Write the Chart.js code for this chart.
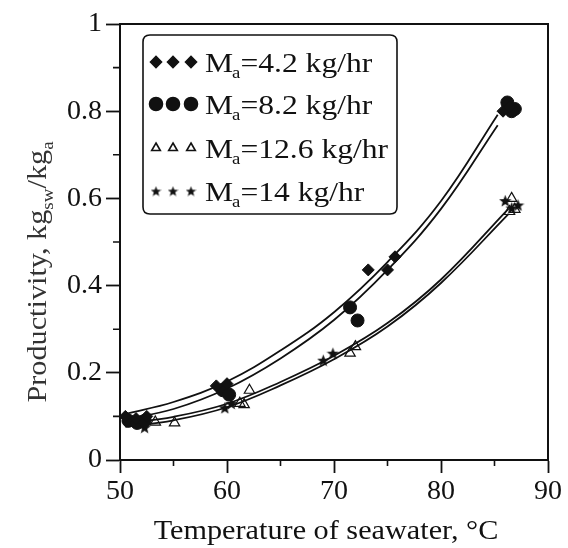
<!DOCTYPE html>
<html><head><meta charset="utf-8">
<script src="https://cdn.jsdelivr.net/npm/chart.js@4"></script>
<style>html,body{margin:0;padding:0;background:#fff}#wrap{width:568px;height:548px;position:relative}</style>
</head><body><div id="wrap"><canvas id="c"></canvas></div>
<script>
// ---- data ----
const xTickValues = [50, 60, 70, 80, 90];
const yTickValues = [0, 0.2, 0.4, 0.6, 0.8, 1];
const xMinorTicks = [55, 65, 75, 85];
const yMinorTicks = [0.1, 0.3, 0.5, 0.7, 0.9];
const xTitle = 'Temperature of seawater, °C';
const legendLabels = ['=4.2 kg/hr', '=8.2 kg/hr', '=12.6 kg/hr', '=14 kg/hr'];

// measured points (temperature, productivity)
const ma42T = [50.5, 51.5, 52.5, 59.0, 60.0, 73.2, 75.0, 75.7, 85.8, 86.4];
const ma42P = [0.100, 0.095, 0.100, 0.170, 0.175, 0.436, 0.436, 0.466, 0.800, 0.810];
const ma82T = [50.8, 51.6, 52.3, 59.6, 60.2, 71.5, 72.2, 86.2, 86.9, 86.6];
const ma82P = [0.090, 0.085, 0.090, 0.160, 0.150, 0.350, 0.320, 0.820, 0.805, 0.800];
const ma126T = [53.3, 55.1, 61.2, 61.6, 62.1, 71.5, 72.0, 86.6, 86.9, 86.4];
const ma126P = [0.087, 0.085, 0.130, 0.127, 0.160, 0.245, 0.260, 0.600, 0.575, 0.570];
const ma14T = [50.5, 51.2, 52.3, 59.8, 60.4, 69.0, 69.9, 86.0, 87.2, 86.6];
const ma14P = [0.100, 0.090, 0.075, 0.120, 0.130, 0.229, 0.245, 0.595, 0.585, 0.578];

// fitted curves
const fitUpperT = [50.5, 55, 60, 65, 70, 75, 80, 85.3];
const fit42P   = [0.106, 0.133, 0.180, 0.251, 0.339, 0.454, 0.594, 0.792];
const fit82P   = [0.094, 0.117, 0.164, 0.233, 0.321, 0.436, 0.576, 0.768];
const fitLowerT = [50.5, 55, 60, 65, 70, 75, 80, 86.3];
const fit126P  = [0.084, 0.099, 0.129, 0.179, 0.239, 0.314, 0.414, 0.576];
const fit14P   = [0.076, 0.091, 0.121, 0.171, 0.231, 0.306, 0.406, 0.564];

const INK = '#111';
const FONT = '"Liberation Serif", "Times New Roman", serif';

function pts(xs, ys){ return xs.map((x,i)=>({x:x, y:ys[i]})); }

function makeStar(size){
  const c = document.createElement('canvas');
  c.width = size; c.height = size;
  const g = c.getContext('2d');
  const cx = size/2, cy = size/2 + size*0.06, R = size/2, r = R*0.42;
  g.beginPath();
  for (let i=0;i<10;i++){
    const a = -Math.PI/2 + i*Math.PI/5;
    const rr = i%2===0 ? R : r;
    g.lineTo(cx + rr*Math.cos(a), cy + rr*Math.sin(a));
  }
  g.closePath(); g.fillStyle = INK; g.fill();
  return c;
}
const starBig = makeStar(13);
const starSmall = makeStar(11);

function curve(xs, ys){
  return {type:'line', data:pts(xs, ys), borderColor:INK, borderWidth:1.8, pointRadius:0,
    tension:0.4, fill:false, showLine:true, order:2};
}

function drawStretched(ctx, text, x, y, sx){
  ctx.save(); ctx.translate(x, y); ctx.scale(sx, 1); ctx.fillText(text, 0, 0); ctx.restore();
  return ctx.measureText(text).width * sx;
}

const framePlugin = {
  id:'frame',
  afterDraw(chart){
    const {ctx, chartArea:a, scales:{x, y}} = chart;
    ctx.save();
    ctx.strokeStyle = INK; ctx.lineWidth = 2;
    ctx.beginPath();
    ctx.moveTo(a.left, a.top); ctx.lineTo(a.right, a.top); ctx.lineTo(a.right, a.bottom);
    ctx.stroke();
    ctx.lineWidth = 1.6;
    ctx.beginPath();
    xMinorTicks.forEach(v=>{ const px = x.getPixelForValue(v); ctx.moveTo(px, a.bottom); ctx.lineTo(px, a.bottom+6); });
    yMinorTicks.forEach(v=>{ const py = y.getPixelForValue(v); ctx.moveTo(a.left, py); ctx.lineTo(a.left-7, py); });
    ctx.stroke();

    // x title
    ctx.fillStyle = INK;
    ctx.font = '27px '+FONT;
    ctx.textBaseline = 'alphabetic';
    const sxT = 1.12;
    const wT = ctx.measureText(xTitle).width * sxT;
    drawStretched(ctx, xTitle, (a.left + a.right)/2 - wT/2 - 8, 539, sxT);

    // y title with subscripts
    ctx.fillStyle = '#333';
    ctx.translate(37, 272);
    ctx.rotate(-Math.PI/2);
    const sy = 1.12;
    const parts = [['Productivity, kg', 27, 0], ['sw', 17, 7], ['/kg', 27, 0], ['a', 17, 7]];
    let total = 0;
    parts.forEach(p=>{ ctx.font = p[1]+'px '+FONT; total += ctx.measureText(p[0]).width * sy; });
    let cx = -total/2;
    parts.forEach(p=>{ ctx.font = p[1]+'px '+FONT; cx += drawStretched(ctx, p[0], cx, 9 + p[2], sy); });
    ctx.restore();

    // legend
    ctx.save();
    const L = 143, T = 35, R = 397, B = 214, rad = 7;
    ctx.strokeStyle = INK; ctx.lineWidth = 1.6;
    ctx.beginPath();
    ctx.moveTo(L+rad, T); ctx.lineTo(R-rad, T); ctx.quadraticCurveTo(R, T, R, T+rad);
    ctx.lineTo(R, B-rad); ctx.quadraticCurveTo(R, B, R-rad, B);
    ctx.lineTo(L+rad, B); ctx.quadraticCurveTo(L, B, L, B-rad);
    ctx.lineTo(L, T+rad); ctx.quadraticCurveTo(L, T, L+rad, T);
    ctx.stroke();
    const rows = [62, 104, 148, 191];
    const styles = [
      {pointStyle:'rectRot', radius:5.5, fill:true},
      {pointStyle:'circle', radius:6.5, fill:true},
      {pointStyle:'triangle', radius:5, fill:false},
      {pointStyle:starSmall, radius:5, fill:true}
    ];
    const mx = [156, 173, 191];
    const sL = 1.17;
    rows.forEach((ry, i)=>{
      const s = styles[i];
      mx.forEach(xx=>{
        ctx.fillStyle = s.fill ? INK : '#fff';
        ctx.strokeStyle = INK;
        Chart.helpers.drawPoint(ctx, {pointStyle:s.pointStyle, radius:s.radius, borderWidth:1.2, rotation:0}, xx, ry);
      });
      ctx.fillStyle = INK;
      ctx.textBaseline = 'alphabetic';
      ctx.font = '27px '+FONT;
      let tx = 205;
      tx += drawStretched(ctx, 'M', tx, ry+10, sL) - 1;
      ctx.font = '16px '+FONT;
      tx += drawStretched(ctx, 'a', tx, ry+16, sL);
      ctx.font = '27px '+FONT;
      drawStretched(ctx, legendLabels[i], tx, ry+10, sL);
    });
    ctx.restore();
  }
};

new Chart(document.getElementById('c'), {
  type:'scatter',
  data:{datasets:[
    curve(fitUpperT, fit42P), curve(fitUpperT, fit82P),
    curve(fitLowerT, fit126P), curve(fitLowerT, fit14P),
    {label:'4.2', data:pts(ma42T, ma42P), pointStyle:'rectRot', pointRadius:6, backgroundColor:INK, borderColor:INK, borderWidth:1, order:1},
    {label:'8.2', data:pts(ma82T, ma82P), pointStyle:'circle', pointRadius:6.5, backgroundColor:INK, borderColor:INK, borderWidth:1, order:1},
    {label:'12.6', data:pts(ma126T, ma126P), pointStyle:'triangle', pointRadius:6, backgroundColor:'rgba(255,255,255,0)', borderColor:INK, borderWidth:1.2, order:1},
    {label:'14', data:pts(ma14T, ma14P), pointStyle:starBig, pointRadius:6, backgroundColor:INK, borderColor:INK, borderWidth:1, order:1}
  ]},
  options:{
    responsive:true, maintainAspectRatio:false, animation:false,
    layout:{padding:{top:24, right:20, left:0, bottom:0}},
    plugins:{legend:{display:false}, tooltip:{enabled:false}},
    scales:{
      x:{type:'linear', min:50, max:90,
        afterBuildTicks(s){ s.ticks = xTickValues.map(v=>({value:v})); },
        afterFit(s){ s.height = 88; },
        ticks:{color:INK, font:{family:FONT, size:28}, padding:2, maxRotation:0,
          callback:(v)=>String(v)},
        grid:{drawOnChartArea:false, drawTicks:true, tickLength:13, tickColor:INK, tickWidth:1.8},
        border:{display:true, color:INK, width:2}
      },
      y:{type:'linear', min:0, max:1,
        afterBuildTicks(s){ s.ticks = yTickValues.map(v=>({value:v})); },
        afterFit(s){ s.width = 120; },
        ticks:{color:INK, font:{family:FONT, size:28}, padding:4,
          callback:(v)=>String(Math.round(v*10)/10)},
        grid:{drawOnChartArea:false, drawTicks:true, tickLength:14, tickColor:INK, tickWidth:1.8},
        border:{display:true, color:INK, width:2}
      }
    }
  },
  plugins:[framePlugin]
});
</script></body></html>
